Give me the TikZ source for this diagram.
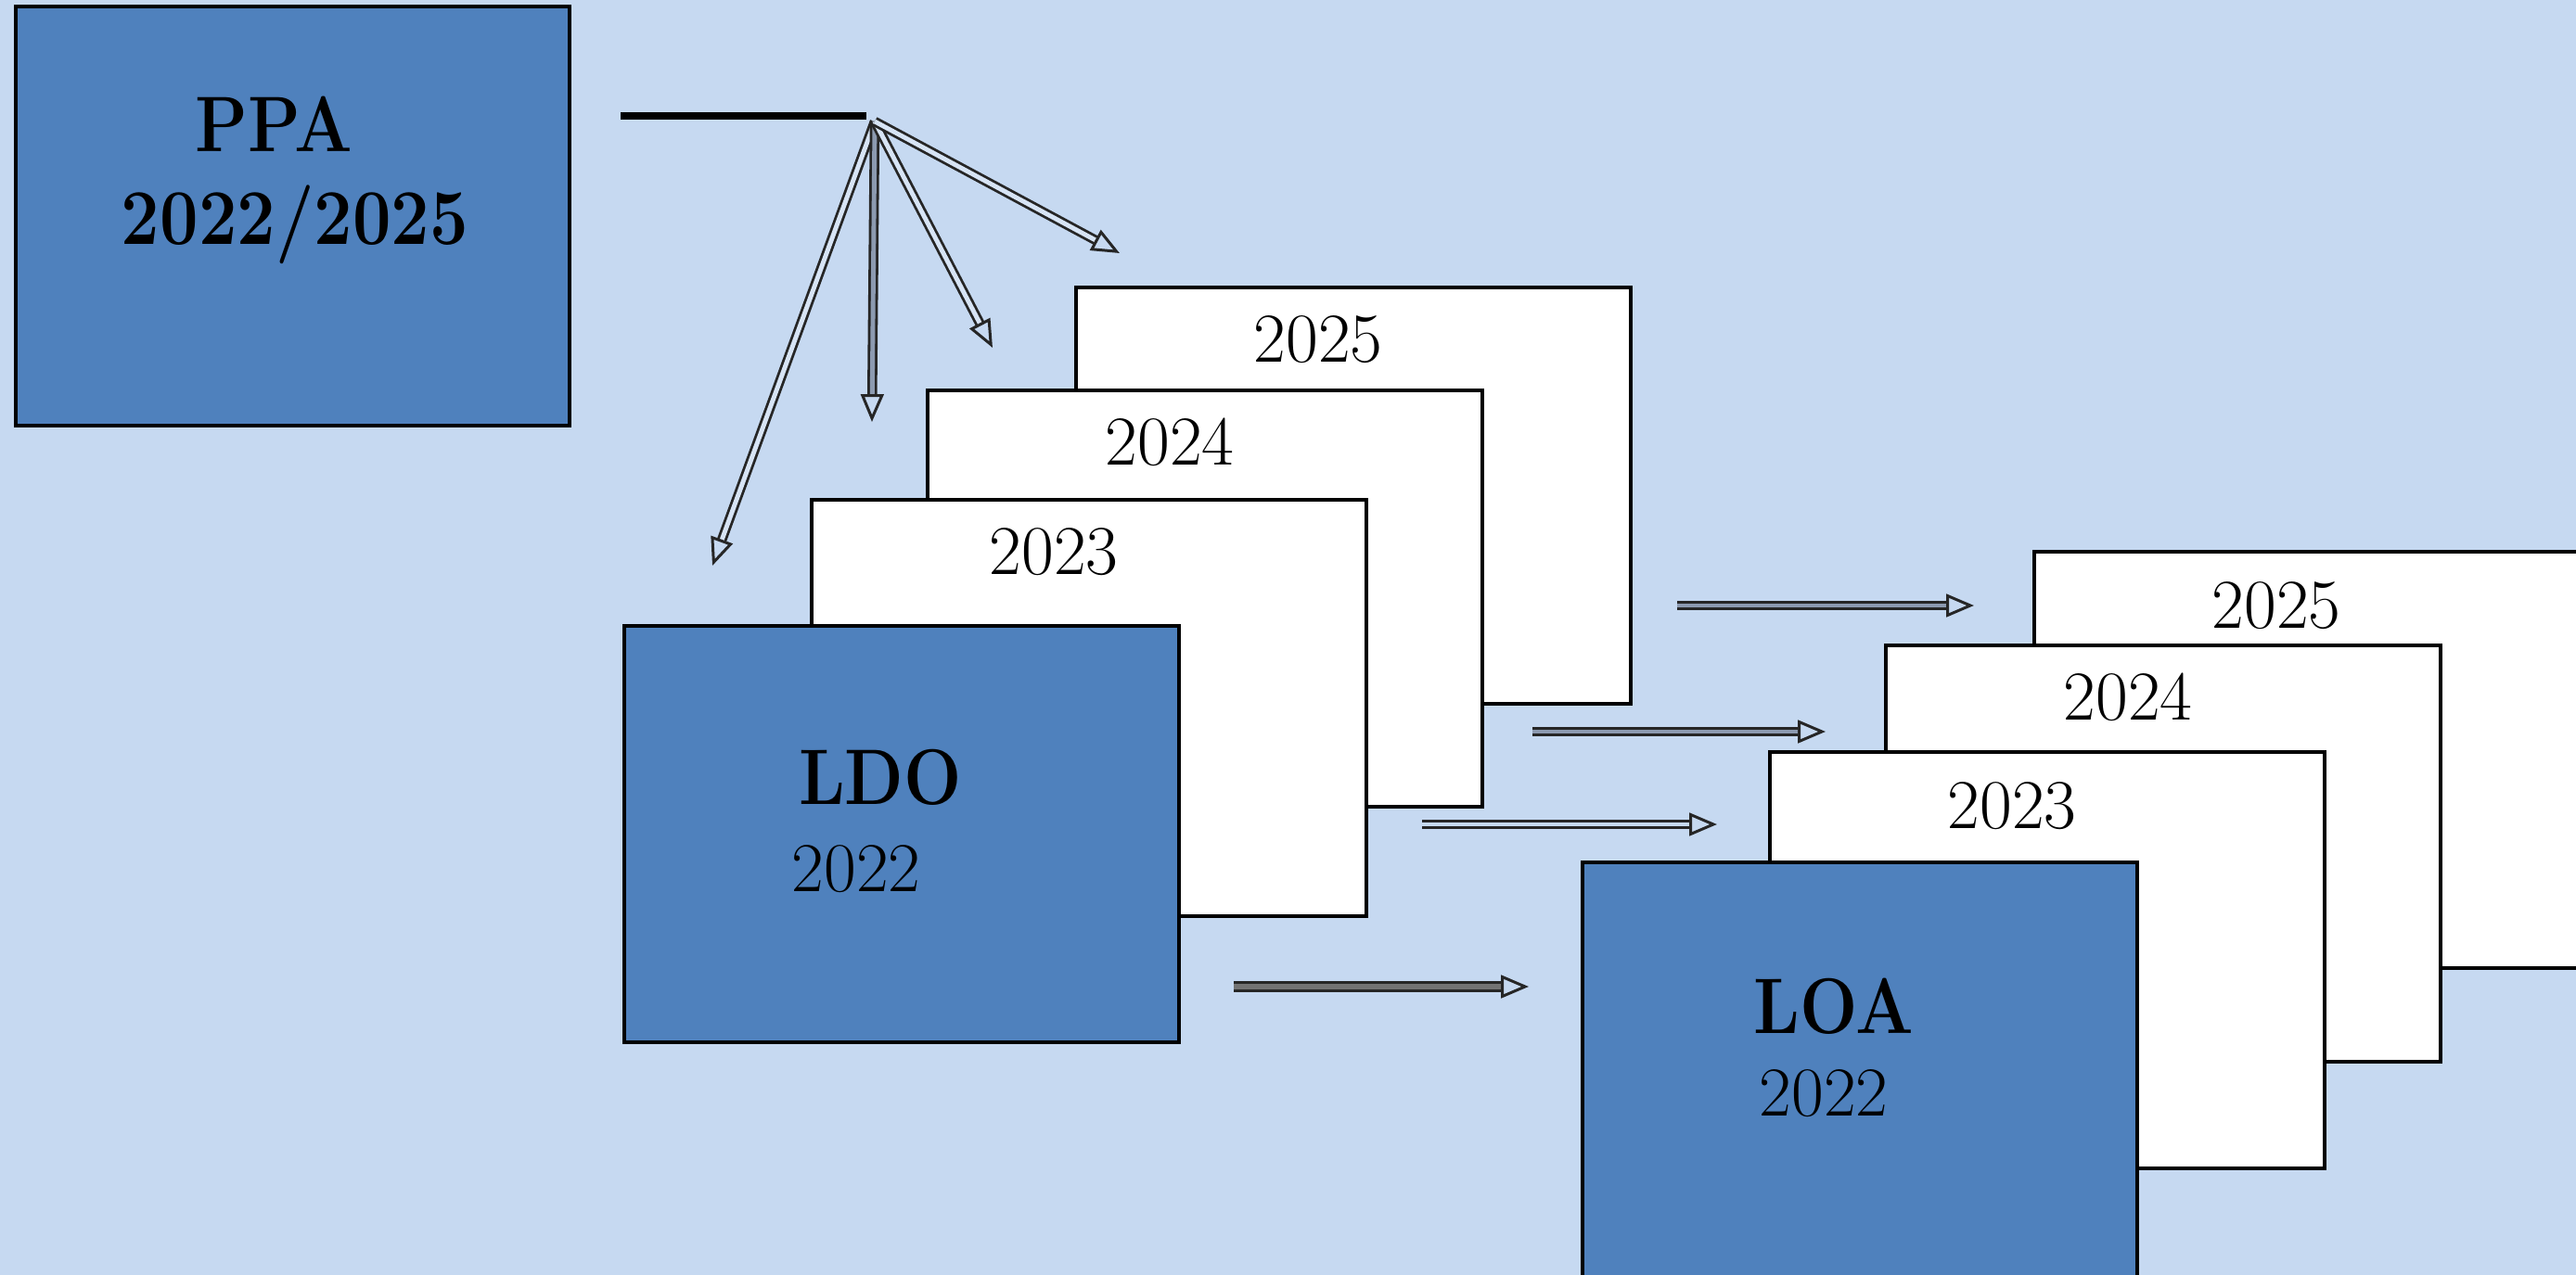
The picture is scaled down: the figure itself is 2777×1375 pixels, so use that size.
\documentclass[tikz,border=0pt]{standalone}
\usetikzlibrary{arrows.meta,calc}
\definecolor{bgblue}{HTML}{C6D9F1}
\definecolor{boxblue}{HTML}{4F81BD}
\definecolor{shaftgray}{HTML}{8C9AB0}
\begin{document}
\begin{tikzpicture}[x=0.01cm,y=-0.01cm,
  card/.style={draw=black, line width=1.05pt, fill=white, minimum width=5.98cm, minimum height=4.49cm, inner sep=0pt, anchor=north west},
  bluecard/.style={card, fill=boxblue},
  yr/.style={font=\fontsize{21.5}{25}\selectfont, inner sep=0pt, anchor=base},
  ttl/.style={font=\fontsize{21}{25}\selectfont\bfseries, inner sep=0pt, anchor=base},
  arr/.style={draw=black!85, line width=0.8pt, double=shaftgray, double distance=1.4pt,
    -{Triangle[open, length=8.5pt, width=7pt, line width=0.85pt]}}
]
\clip (0,0) rectangle (2777,1375);
\fill[bgblue] (0,0) rectangle (2777,1375);

% PPA
\node[bluecard, minimum width=5.97cm, minimum height=4.52cm] (ppa) at (15,5) {};
\node[ttl] (ppat) at (295,163) {\scalebox{1}[1.15]{PPA}};
\node[ttl] (ppay) at (318,263) {\scalebox{1}[1.15]{2022/2025}};

% top stack
\node[card] (t25) at (1158,308) {};
\node[yr] (t25t) at ($(t25.north west)+(263,82)$) {2025};
\node[card] (t24) at (998,419) {};
\node[yr] (t24t) at ($(t24.north west)+(263,82)$) {2024};
\node[card] (t23) at (873,537) {};
\node[yr] (t23t) at ($(t23.north west)+(263,82)$) {2023};
\node[bluecard] (ldo) at (671,673) {};
\node[ttl] (ldot) at (949,867) {\scalebox{1}[1.15]{LDO}};
\node[yr] (ldoy) at (923,961) {2022};

% bottom stack
\node[card] (b25) at (2191,593) {};
\node[yr] (b25t) at ($(b25.north west)+(263,84)$) {2025};
\node[card] (b24) at (2031,694) {};
\node[yr] (b24t) at ($(b24.north west)+(263,82)$) {2024};
\node[card] (b23) at (1906,809) {};
\node[yr] (b23t) at ($(b23.north west)+(263,84)$) {2023};
\node[bluecard] (loa) at (1704,928) {};
\node[ttl] (loat) at (1977,1114) {\scalebox{1}[1.15]{LOA}};
\node[yr] (loay) at (1966,1203) {2022};

% fan from PPA
\coordinate (hl) at (669,125);
\coordinate (hr) at (934,125);
\coordinate (fan) at (943,131);
\coordinate (f1) at (768,610);
\coordinate (f2) at (940,455);
\coordinate (f3) at (1070,375);
\coordinate (f4) at (1207,273);
\draw[line width=2.2pt] (hl) -- (hr);
\draw[arr, double=bgblue!70!white] (fan) -- (f1);
\draw[arr] (fan) -- (f2);
\draw[arr, double=bgblue!70!white] (fan) -- (f3);
\draw[arr, double=bgblue!70!white] (fan) -- (f4);

% horizontal arrows between stacks
\coordinate (a1s) at (1808,653);
\coordinate (a1e) at (2128,653);
\coordinate (a2s) at (1652,789);
\coordinate (a2e) at (1968,789);
\coordinate (a3s) at (1533,889);
\coordinate (a3e) at (1851,889);
\coordinate (a4s) at (1330,1064);
\coordinate (a4e) at (1648,1064);
\draw[arr] (a1s) -- (a1e);
\draw[arr] (a2s) -- (a2e);
\draw[arr, double=bgblue] (a3s) -- (a3e);
\draw[arr, double distance=1.8pt, double=black!55] (a4s) -- (a4e);
\end{tikzpicture}
\end{document}
